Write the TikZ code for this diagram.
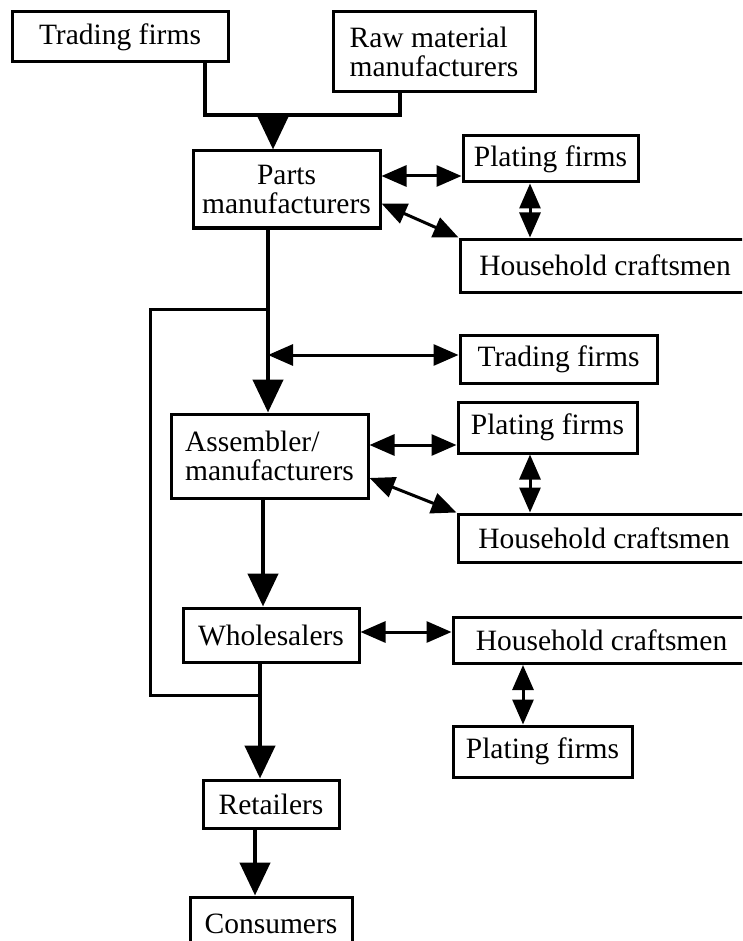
\documentclass[tikz,border=0pt]{standalone}
\usepackage{fontspec}
\setmainfont{Liberation Serif}
\usepackage{tikz}
\usetikzlibrary{arrows.meta,positioning}
\tikzset{
	firm/.style={draw, black, line width=3pt, inner sep=0pt, font=\fontsize{29.5}{29.5}\selectfont},
	flow/.style={black, line width=4.5pt},
	down/.style={flow, -{Triangle[width=30pt,length=33pt]}},
	back/.style={black, line width=3pt},
	link/.style={black, line width=3pt, {Triangle[width=21pt,length=25pt]}-{Triangle[width=21pt,length=25pt]}}
}

\begin{document}
\begin{tikzpicture}[x=1pt,y=-1pt]
		\useasboundingbox (0,0) rectangle (742,941);
		\clip (0,0) rectangle (742,941);
		\coordinate (join) at (273,115);
		\coordinate (s1) at (268,0);
		\coordinate (s2) at (263,0);
		\coordinate (s3) at (260,0);
		\coordinate (s4) at (255,0);
		\coordinate (r1) at (0,176);
		\coordinate (r2) at (0,355);
		\coordinate (r3) at (0,445);
		\coordinate (r4) at (0,632);
		\coordinate (c1) at (530,0);
		\coordinate (c2) at (530,0);
		\coordinate (c3) at (523,0);
		\node[firm, minimum width=216pt, minimum height=50pt] (trade1) at (120,37) {Trading firms};
		\node[firm, minimum width=202pt, minimum height=80pt, align=left] (raw) at (434,52) {Raw material\\manufacturers};
		\node[firm, minimum width=187pt, minimum height=77pt, align=center] (parts) at (286.5,189.5) {Parts\\manufacturers};
		\node[firm, minimum width=175pt, minimum height=46pt] (plate1) at (550.5,159) {Plating firms};
		\node[firm, minimum width=290pt, minimum height=53pt] (house1) at (605,265.5) {Household craftsmen};
		\node[firm, minimum width=197pt, minimum height=48pt] (trade2) at (558.5,359) {Trading firms};
		\node[firm, minimum width=197pt, minimum height=84pt, align=left] (asm) at (269.5,456) {Assembler/\\manufacturers};
		\node[firm, minimum width=179pt, minimum height=51pt] (plate2) at (547.5,427.5) {Plating firms};
		\node[firm, minimum width=292pt, minimum height=48pt] (house2) at (604,538) {Household craftsmen};
		\node[firm, minimum width=176pt, minimum height=54pt] (whole) at (271,635) {Wholesalers};
		\node[firm, minimum width=297pt, minimum height=46pt] (house3) at (601.5,640.5) {Household craftsmen};
		\node[firm, minimum width=179pt, minimum height=51pt] (plate3) at (542.5,751.5) {Plating firms};
		\node[firm, minimum width=136pt, minimum height=48pt] (retail) at (271,804) {Retailers};
		\node[firm, minimum width=162pt, minimum height=53pt] (cons) at (271,923.5) {Consumers};
		\draw[flow] ([xshift=85pt]trade1.south) |- (join) -| ([xshift=-34pt]raw.south);
		\draw[down] (join) -- (join |- parts.north);
		\draw[down] (s1 |- parts.south) -- (s1 |- asm.north);
		\draw[down] (s2 |- asm.south) -- (s2 |- whole.north);
		\draw[down] (s3 |- whole.south) -- (s3 |- retail.north);
		\draw[down] (s4 |- retail.south) -- (s4 |- cons.north);
		\draw[back] (s1 |- 0,309) -- (150,309) -- (150,695) -- (s3 |- 0,695);
		\draw[link] (parts.east |- r1) -- (plate1.west |- r1);
		\draw[link] ([yshift=-14pt]parts.east) -- (house1.north west);
		\draw[link] (c1 |- plate1.south) -- (c1 |- house1.north);
		\draw[link] (s1 |- r2) -- (trade2.west |- r2);
		\draw[link] (asm.east |- r3) -- (plate2.west |- r3);
		\draw[link] ([yshift=-22pt]asm.east) -- (house2.north west);
		\draw[link] (c2 |- plate2.south) -- (c2 |- house2.north);
		\draw[link] (whole.east |- r4) -- (house3.west |- r4);
		\draw[link] (c3 |- house3.south) -- (c3 |- plate3.north);
	\end{tikzpicture}
\end{document}
